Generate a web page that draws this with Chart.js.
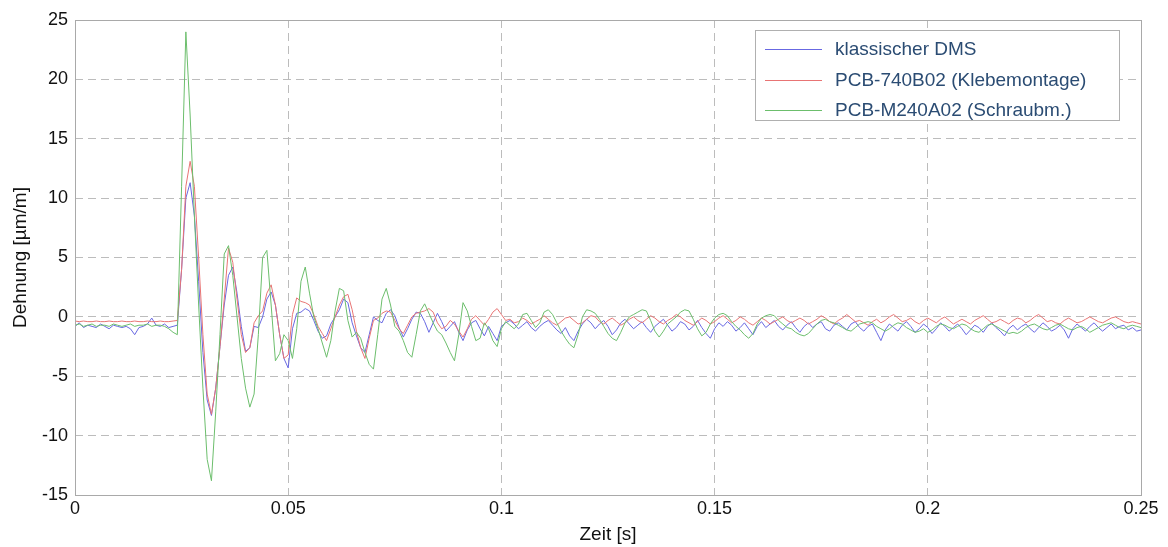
<!DOCTYPE html>
<html>
<head>
<meta charset="utf-8">
<script src="https://cdn.jsdelivr.net/npm/chart.js@4.4.1/dist/chart.umd.min.js"></script>
<style>
  html, body { margin: 0; padding: 0; background: #fff; }
</style>
</head>
<body>
<canvas id="dehnung-chart" width="1168" height="547"></canvas>
<script>
// Abtastung 1 ms, 0 .. 0.25 s
const sampleStep = 0.001;

const seriesLabels = ['klassischer DMS', 'PCB-740B02 (Klebemontage)', 'PCB-M240A02 (Schraubm.)'];
const xTickValues = [0, 0.05, 0.1, 0.15, 0.2, 0.25];
const yTickValues = [-15, -10, -5, 0, 5, 10, 15, 20, 25];

// klassischer DMS
const dmsValues = [
  -0.8, -0.5, -0.9, -0.7, -0.8, -0.9, -0.6, -0.8, -1.0, -0.7,
  -0.8, -0.9, -0.8, -1.0, -1.5, -0.9, -0.8, -0.6, -0.1, -0.7,
  -0.8, -0.6, -0.9, -0.8, -0.7, 4.0, 10.0, 11.3, 8.5, 3.0,
  -3.0, -7.0, -8.3, -6.0, -2.5, 1.0, 3.5, 4.2, 2.0, -0.8,
  -2.9, -2.6, -0.8, -0.9, 0.0, 1.5, 2.1, 1.0, -1.5, -3.5,
  -4.3, -1.0, 0.3, 0.4, 0.7, 0.5, -0.3, -1.2, -1.8, -1.6,
  -0.6, 0.0, 0.6, 1.5, 1.2, -0.5, -1.6, -2.6, -3.0, -1.5,
  0.0, -0.3, -0.5, 0.3, 0.6, 0.1, -0.9, -1.7, -1.0, -0.2,
  0.4, 0.3, -0.4, -1.3, -0.5, 0.3, -0.4, -1.2, -0.8, -0.4,
  -1.3, -2.0, -1.1, -0.5, -0.3, -1.0, -1.6, -0.8, -1.4, -2.0,
  -0.8, -0.5, -0.3, -0.6, -1.0, -0.7, -0.4, -0.9, -1.2, -0.8,
  -0.5, -0.3, -0.7, -1.1, -1.4, -0.9, -1.6, -2.0, -1.2, -0.6,
  -0.2, -0.5, -1.0, -0.6, -0.3, -0.8, -1.5, -1.1, -0.5, -0.2,
  -0.6, -1.0, -0.7, -0.4, -0.9, -1.3, -0.8, -0.5, -0.2, -0.7,
  -1.2, -0.9, -0.4, -0.6, -1.1, -0.8, -0.3, -0.9, -1.4, -1.8,
  -1.0, -0.5, -0.8, -0.4, -0.7, -1.2, -0.9, -0.5, -1.0, -1.5,
  -0.8, -0.4, -0.9, -0.6, -0.3, -0.8, -1.1, -0.7, -0.4, -0.9,
  -1.3, -0.8, -0.5, -0.9, -0.6, -0.4, -1.0, -1.2, -0.7, -0.5,
  -0.8, -1.1, -0.6, -0.4, -0.9, -1.2, -0.8, -0.6, -1.3, -2.0,
  -1.1, -0.6, -0.9, -1.2, -0.7, -0.4, -0.8, -1.3, -1.0, -0.6,
  -0.9, -1.4, -1.0, -0.5, -0.8, -1.2, -0.9, -0.6, -1.0, -1.5,
  -1.1, -0.7, -0.9, -1.3, -0.8, -0.5, -0.9, -1.2, -1.6, -1.0,
  -0.7, -1.1, -0.8, -0.6, -1.0, -1.3, -0.9, -0.5, -0.8, -1.2,
  -1.0, -0.7, -1.1, -1.8, -1.0, -0.6, -0.9, -1.2, -0.8, -0.5,
  -0.9, -1.2, -0.9, -0.6, -1.0, -0.8, -0.7, -1.1, -0.9, -1.2,
  -1.1
];

// PCB-740B02 (Klebemontage)
const klebeValues = [
  -0.35, -0.4, -0.35, -0.4, -0.4, -0.35, -0.4, -0.4, -0.35, -0.4,
  -0.4, -0.35, -0.4, -0.4, -0.35, -0.4, -0.4, -0.35, -0.4, -0.4,
  -0.35, -0.4, -0.4, -0.35, -0.3, 4.0, 11.0, 13.1, 11.0, 5.0,
  -1.5, -6.5, -8.2, -6.0, -2.5, 1.5, 5.8, 4.6, 1.5, -1.5,
  -3.0, -2.6, -0.5, 0.1, 0.5, 2.0, 2.7, 1.0, -1.5, -3.5,
  -3.2, 0.2, 1.6, 1.3, 1.2, 1.0, 0.2, -0.8, -1.4, -2.0,
  -1.0, 0.0, 1.0, 1.7, 1.9, 0.6, -1.2, -2.6, -3.5, -1.8,
  -0.3, -0.1, 0.3, 0.5, 0.4, -0.3, -1.0, -1.4, -0.7, 0.0,
  0.3, 0.4, 0.5, 0.7, 0.4, -0.5, -1.0, -0.8, -0.3, -0.6,
  -1.2, -1.7, -1.0, -0.2, 0.1, -0.3, -0.7, -0.2, 0.4, 0.7,
  0.2, -0.3, -0.2, -0.5, -0.4, -0.1, -0.3, -0.6, -0.4, -0.2,
  0.1, -0.2, -0.5, -0.7, -0.4, -0.1, 0.0, -0.3, -0.6, -0.5,
  -0.2, 0.1, 0.0, -0.4, -0.6, -0.3, -0.1, -0.4, -0.7, -0.5,
  -0.2, 0.0, -0.3, -0.5, -0.2, 0.1, -0.1, -0.4, -0.6, -0.3,
  -0.1, 0.2, 0.0, -0.3, -0.5, -0.7, -0.4, -0.1, -0.3, -0.6,
  -0.4, -0.1, 0.1, -0.2, -0.5, -0.3, 0.0, -0.2, -0.5, -0.7,
  -0.4, -0.1, -0.3, -0.6, -0.4, -0.2, 0.0, -0.3, -0.5, -0.3,
  -0.1, -0.3, -0.6, -0.4, -0.2, 0.1, -0.1, -0.4, -0.6, -0.3,
  -0.1, 0.2, -0.1, -0.4, -0.3, -0.5, -0.7, -0.4, -0.2, -0.5,
  -0.3, 0.0, 0.2, -0.1, -0.4, -0.3, -0.1, -0.4, -0.6, -0.3,
  -0.1, -0.3, -0.5, -0.2, 0.0, -0.3, -0.6, -0.4, -0.2, -0.4,
  -0.6, -0.3, -0.1, 0.1, -0.2, -0.5, -0.4, -0.2, -0.4, -0.6,
  -0.3, -0.1, -0.2, -0.5, -0.3, 0.0, 0.2, -0.1, -0.4, -0.3,
  -0.5, -0.6, -0.3, -0.1, -0.3, -0.5, -0.4, -0.2, 0.0, -0.2,
  -0.4, -0.5, -0.3, -0.1, 0.0, -0.2, -0.4, -0.5, -0.4, -0.5,
  -0.6
];

// PCB-M240A02 (Schraubmontage)
const schraubValues = [
  -0.7, -0.6, -0.8, -0.7, -0.6, -0.8, -0.7, -0.7, -0.8, -0.6,
  -0.7, -0.8, -0.7, -0.6, -0.8, -0.7, -0.7, -0.6, -0.8, -0.7,
  -0.7, -0.8, -1.0, -1.3, -1.5, 11.0, 24.0, 17.0, 8.5, 1.0,
  -6.0, -12.0, -13.8, -8.0, -1.5, 5.3, 6.0, 3.5, 0.0, -3.5,
  -6.0, -7.6, -6.5, -1.5, 5.0, 5.6, 1.0, -3.7, -3.1, -1.5,
  -2.0, -3.5, -1.0, 3.0, 4.2, 2.0, 0.0, -1.0, -2.2, -3.4,
  -2.0, 0.5, 2.4, 2.2, -0.3, -1.7, -1.3, -1.8, -3.0, -4.0,
  -4.4, -1.5, 1.5, 2.4, 1.0, -0.8, -1.2, -2.0, -3.0, -3.4,
  -1.5, 0.5, 1.1, 0.3, -0.5, -1.2, -1.5, -2.2, -3.0, -3.7,
  -1.5, 1.2, 0.5, -0.8, -2.0, -1.8, -0.5, -1.0, -2.0, -2.5,
  -1.0, -0.4, -0.7, -1.0, -0.6, 0.2, 0.3, -0.3, -0.9, -0.5,
  0.4, 0.6, 0.2, -0.5, -1.2, -1.8, -2.3, -2.6, -1.5, 0.0,
  0.6, 0.5, 0.3, -0.2, -0.8, -1.4, -1.8, -2.0, -1.3, -0.5,
  0.0, 0.2, 0.4, 0.6, 0.5, -0.3, -1.2, -1.7, -1.2, -0.6,
  -0.3, 0.0, 0.4, 0.6, 0.5, -0.2, -1.0, -1.6, -1.3, -0.6,
  -0.1, 0.2, 0.3, 0.1, -0.4, -0.8, -1.1, -1.5, -1.8, -1.4,
  -0.6, -0.1, 0.1, 0.2, 0.1, -0.3, -0.6, -0.9, -1.0, -1.3,
  -1.5, -1.6, -1.4, -1.0, -0.6, -0.3, -0.2, -0.4, -0.5, -0.7,
  -0.9, -1.1, -1.2, -0.9, -0.6, -0.5, -0.4, -0.5, -0.8, -1.0,
  -1.2, -1.0, -0.7, -0.5, -0.6, -0.9, -1.1, -1.3, -1.2, -1.0,
  -1.3, -1.1, -0.8, -0.6, -0.7, -0.9, -1.0, -0.8, -0.6, -0.7,
  -1.0, -1.2, -1.3, -1.0, -0.7, -0.6, -0.8, -1.0, -1.2, -1.4,
  -1.3, -1.4, -1.2, -0.9, -0.7, -0.6, -0.8, -1.0, -1.1, -0.9,
  -0.7, -0.6, -0.8, -1.0, -1.1, -0.9, -0.8, -1.0, -1.3, -1.1,
  -0.9, -0.7, -0.6, -0.5, -0.7, -0.9, -1.0, -0.8, -0.7, -0.8,
  -0.9
];

const seriesColors = ['rgb(104, 104, 226)', 'rgb(232, 116, 116)', 'rgb(108, 190, 108)'];
const fontName = '"Liberation Sans", Arial, sans-serif';

function toPoints(values) {
  return values.map(function (v, i) { return { x: i * sampleStep, y: v }; });
}

// Rahmen und Legende im Stil der Vorlage
const frameAndLegend = {
  id: 'frameAndLegend',
  afterDatasetsDraw: function (chart) {
    const ctx = chart.ctx;
    const a = chart.chartArea;
    ctx.save();
    ctx.strokeStyle = '#a9a9a9';
    ctx.lineWidth = 1;
    ctx.strokeRect(Math.round(a.left) + 0.5, Math.round(a.top) + 0.5,
      Math.round(a.right - a.left), Math.round(a.bottom - a.top));

    const boxLeft = Math.round(a.right) - 386;
    const boxTop = Math.round(a.top) + 10;
    ctx.fillStyle = '#ffffff';
    ctx.fillRect(boxLeft, boxTop, 364, 90);
    ctx.strokeStyle = '#b0b0b0';
    ctx.strokeRect(boxLeft + 0.5, boxTop + 0.5, 364, 90);

    ctx.font = '19px ' + fontName;
    ctx.textBaseline = 'middle';
    ctx.textAlign = 'left';
    for (let i = 0; i < seriesLabels.length; i++) {
      const y = boxTop + 19 + i * 30.5;
      ctx.strokeStyle = seriesColors[i];
      ctx.beginPath();
      ctx.moveTo(boxLeft + 10, Math.round(y) + 0.5);
      ctx.lineTo(boxLeft + 67, Math.round(y) + 0.5);
      ctx.stroke();
      ctx.fillStyle = '#2b4c73';
      ctx.fillText(seriesLabels[i], boxLeft + 80, y + 1);
    }
    ctx.restore();
  }
};

const ctx = document.getElementById('dehnung-chart');

new Chart(ctx, {
  type: 'line',
  data: {
    datasets: [
      { label: seriesLabels[0], data: toPoints(dmsValues), borderColor: seriesColors[0], order: 3 },
      { label: seriesLabels[1], data: toPoints(klebeValues), borderColor: seriesColors[1], order: 2 },
      { label: seriesLabels[2], data: toPoints(schraubValues), borderColor: seriesColors[2], order: 1 }
    ]
  },
  options: {
    responsive: false,
    animation: false,
    events: [],
    layout: { padding: { top: 20, right: 27, left: 0, bottom: 0 } },
    elements: {
      line: { borderWidth: 1, tension: 0, fill: false },
      point: { radius: 0 }
    },
    scales: {
      x: {
        type: 'linear',
        min: 0,
        max: 0.25,
        afterFit: function (scale) { scale.height = 52; },
        afterBuildTicks: function (scale) {
          scale.ticks = xTickValues.map(function (v) { return { value: v }; });
        },
        ticks: {
          padding: 3,
          maxRotation: 0,
          color: '#111',
          font: { family: fontName, size: 18 },
          callback: function (v) { return String(Number(v.toFixed(2))); }
        },
        grid: { color: '#bcbcbc', drawTicks: false },
        border: { display: false, dash: [8, 5] },
        title: {
          display: true,
          text: 'Zeit [s]',
          color: '#111',
          font: { family: fontName, size: 19 },
          padding: { top: 0, bottom: 1 }
        }
      },
      y: {
        min: -15,
        max: 25,
        afterFit: function (scale) { scale.width = 75; },
        afterBuildTicks: function (scale) {
          scale.ticks = yTickValues.map(function (v) { return { value: v }; });
        },
        ticks: {
          padding: 7,
          color: '#111',
          font: { family: fontName, size: 18 }
        },
        grid: { color: '#bcbcbc', drawTicks: false },
        border: { display: false, dash: [8, 5] },
        title: {
          display: true,
          text: 'Dehnung [µm/m]',
          color: '#111',
          font: { family: fontName, size: 19 },
          padding: { top: 9, bottom: 0 }
        }
      }
    },
    plugins: {
      legend: { display: false },
      tooltip: { enabled: false }
    }
  },
  plugins: [frameAndLegend]
});
</script>
</body>
</html>
